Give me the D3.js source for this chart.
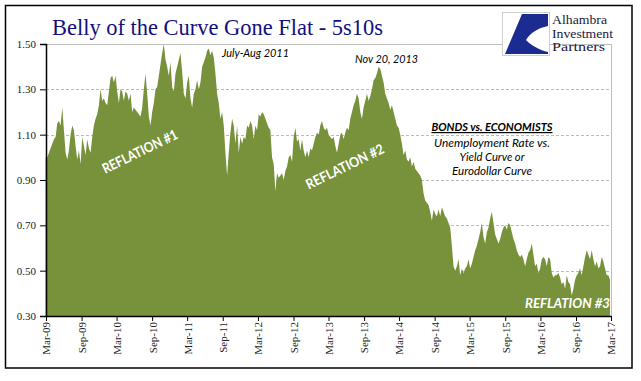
<!DOCTYPE html>
<html><head><meta charset="utf-8">
<script src="https://cdn.jsdelivr.net/npm/d3@7"></script>
<style>
html,body{margin:0;padding:0;background:#fff;}
svg{display:block;}
</style></head>
<body>
<svg id="chart" width="641" height="381"></svg>
<script>
// ---- data ----
const startDate = "2009-02-27";
const endDate = "2017-02-24";
const spreadValues = [
1.00,1.00,1.02,1.04,1.06,1.08,1.09,1.15,1.16,1.14,1.22,1.12,1.02,0.99,1.03,1.10,1.14,1.12,1.05,0.99,
1.03,0.97,1.09,1.05,1.01,1.08,1.04,1.02,1.09,1.14,1.17,1.19,1.23,1.30,1.25,1.26,1.24,1.23,1.29,1.35,
1.36,1.33,1.36,1.29,1.24,1.30,1.29,1.25,1.29,1.28,1.25,1.28,1.20,1.22,1.21,1.20,1.19,1.18,1.22,1.30,
1.37,1.28,1.18,1.14,1.20,1.24,1.30,1.31,1.36,1.41,1.46,1.50,1.43,1.40,1.36,1.42,1.31,1.29,1.37,1.40,
1.43,1.46,1.38,1.28,1.26,1.33,1.36,1.26,1.22,1.28,1.30,1.34,1.30,1.33,1.40,1.42,1.44,1.47,1.48,1.45,
1.47,1.44,1.37,1.28,1.24,1.17,1.20,1.14,1.02,0.92,1.02,1.11,1.17,1.14,1.06,1.14,1.02,1.09,1.06,1.09,
1.08,1.14,1.13,1.16,1.14,1.08,1.14,1.12,1.19,1.18,1.20,1.19,1.17,1.15,1.13,1.12,1.00,0.97,0.85,0.93,
0.91,0.92,0.93,0.90,0.94,0.96,1.00,1.01,0.98,1.09,1.13,1.07,1.08,1.03,1.08,1.03,1.00,1.03,1.00,1.04,
1.03,1.06,1.09,1.11,1.10,1.14,1.16,1.13,1.12,1.13,1.10,1.09,1.08,1.09,1.05,1.02,1.06,1.10,1.11,1.08,
1.11,1.13,1.12,1.17,1.20,1.23,1.25,1.28,1.26,1.20,1.17,1.22,1.25,1.28,1.25,1.27,1.30,1.34,1.35,1.37,
1.40,1.39,1.36,1.33,1.28,1.26,1.24,1.21,1.23,1.20,1.17,1.14,1.13,1.10,1.06,1.01,1.03,0.99,0.98,1.00,
0.96,0.98,0.95,0.94,0.93,0.92,0.90,0.84,0.81,0.80,0.79,0.76,0.72,0.77,0.75,0.74,0.77,0.74,
0.78,0.76,0.74,0.73,0.71,0.69,0.61,0.52,0.50,0.52,0.55,0.48,0.51,0.49,0.51,0.52,0.55,0.51,0.53,0.56,
0.59,0.61,0.64,0.67,0.71,0.65,0.62,0.67,0.69,0.73,0.76,0.71,0.66,0.64,0.62,0.64,0.67,0.69,0.70,0.68,
0.71,0.70,0.67,0.64,0.62,0.59,0.57,0.56,0.57,0.55,0.52,0.55,0.58,0.59,0.62,0.57,0.52,0.53,0.49,0.51,
0.55,0.56,0.55,0.52,0.56,0.55,0.49,0.47,0.48,0.48,0.49,0.47,0.44,0.45,0.42,0.48,0.45,0.44,0.39,0.42,
0.46,0.48,0.49,0.51,0.48,0.52,0.56,0.59,0.57,0.55,0.59,0.55,0.52,0.54,0.51,0.52,0.56,0.54,0.51,0.48,
0.48,0.46
];
const yTicks = [0.30, 0.50, 0.70, 0.90, 1.10, 1.30, 1.50];
const xTickLabels = ["Mar-09","Sep-09","Mar-10","Sep-10","Mar-11","Sep-11","Mar-12","Sep-12",
  "Mar-13","Sep-13","Mar-14","Sep-14","Mar-15","Sep-15","Mar-16","Sep-16","Mar-17"];
const titleText = "Belly of the Curve Gone Flat - 5s10s";
const logoLines = ["Alhambra","Investment","Partners"];
const logoWidths = [55, 61, 53];
const noteLines = ["Unemployment Rate vs.","Yield Curve or","Eurodollar Curve"];
const noteWidths = [116, 65, 80];

// ---- build ----
const parse = d3.timeParse("%Y-%m-%d");
const tickParse = d3.timeParse("%b-%y");
const t0 = parse(startDate), t1 = parse(endDate);
const n = spreadValues.length;
const data = spreadValues.map((v, i) => ({
  date: new Date(+t0 + (t1 - t0) * i / (n - 1)),
  value: v
}));

const svg = d3.select("#chart");
const L = 46, R = 611, T = 44, B = 316;

const x = d3.scaleTime().domain([tickParse("Mar-09"), tickParse("Mar-17")]).range([L, R]);
const y = d3.scaleLinear().domain([0.30, 1.50]).range([B, T]);

// outer border
svg.append("rect").attr("x", 5.5).attr("y", 5.5).attr("width", 626.5).attr("height", 362.5)
  .attr("fill", "none").attr("stroke", "#000").attr("stroke-width", 1.5);

// gridlines
svg.append("g").selectAll("line").data(yTicks.filter(d => d > 0.31 && d < 1.49)).join("line")
  .attr("x1", L).attr("x2", R).attr("y1", d => Math.round(y(d)) + 0.5).attr("y2", d => Math.round(y(d)) + 0.5)
  .attr("stroke", "#a8a8a8").attr("stroke-width", 0.8).attr("stroke-dasharray", "3,2");
// top & right frame
svg.append("line").attr("x1", L).attr("x2", R).attr("y1", T + 0.5).attr("y2", T + 0.5)
  .attr("stroke", "#bdbdbd").attr("stroke-width", 1);
svg.append("line").attr("x1", R + 0.5).attr("x2", R + 0.5).attr("y1", T).attr("y2", B)
  .attr("stroke", "#bdbdbd").attr("stroke-width", 1);

// area
const area = d3.area().x(d => x(d.date)).y0(y(0.30)).y1(d => y(d.value)).curve(d3.curveLinear);
svg.append("path").datum(data).attr("d", area).attr("fill", "#77923b");

// axes
const yAxis = d3.axisLeft(y).tickValues(yTicks).tickFormat(d3.format(".2f")).tickSize(6).tickPadding(4);
const gy = svg.append("g").attr("transform", `translate(${L},0)`).call(yAxis);
gy.select(".domain").attr("stroke", "#000").attr("stroke-width", 1.5);
gy.selectAll(".tick line").attr("stroke", "#000");
gy.selectAll("text").attr("font-family", "'Liberation Serif', serif").attr("font-size", 11).attr("fill", "#222");

const xAxis = d3.axisBottom(x).tickValues(xTickLabels.map(tickParse)).tickFormat(d3.timeFormat("%b-%y")).tickSize(5).tickSizeOuter(0);
const gx = svg.append("g").attr("transform", `translate(0,${B})`).call(xAxis);
gx.select(".domain").attr("stroke", "#000").attr("stroke-width", 1.5);
gx.selectAll(".tick line").attr("stroke", "#000");
gx.selectAll("text").attr("font-family", "'Liberation Serif', serif").attr("font-size", 11).attr("fill", "#222")
  .attr("text-anchor", "end").attr("transform", "rotate(-90)").attr("x", -6).attr("y", 0).attr("dy", "0.35em");

// title
svg.append("text").attr("x", 52).attr("y", 35).text(titleText)
  .attr("font-family", "'Liberation Serif', serif").attr("font-size", 23).attr("fill", "#10107e")
  .attr("textLength", 331).attr("lengthAdjust", "spacingAndGlyphs");

// logo
const lg = svg.append("g");
lg.append("rect").attr("x", 502.5).attr("y", 12.5).attr("width", 47).attr("height", 43)
  .attr("fill", "#fff").attr("stroke", "#cfcfcf");
lg.append("path").attr("fill", "#1b2b8f")
  .attr("d", "M522,14 L548,14 L548,26 C538,28 530,33 526,40 C532,46 540,50 548,52 L548,54 L505,54 Z");
lg.selectAll("text.logo").data(logoLines).join("text").attr("class", "logo")
  .attr("x", 552).attr("y", (d, i) => 24 + i * 13.5).text(d => d)
  .attr("font-family", "'Liberation Serif', serif").attr("font-size", 12.2).attr("fill", "#1a1a3a")
  .attr("textLength", (d, i) => logoWidths[i]).attr("lengthAdjust", "spacingAndGlyphs");

// annotations
const sans = "Lato, 'Open Sans', sans-serif";
svg.append("text").attr("x", 222).attr("y", 57).text("July-Aug 2011")
  .attr("font-family", sans).attr("font-style", "italic").attr("font-size", 12).attr("fill", "#000")
  .attr("textLength", 67).attr("lengthAdjust", "spacingAndGlyphs");
svg.append("text").attr("x", 355).attr("y", 63).text("Nov 20, 2013")
  .attr("font-family", sans).attr("font-style", "italic").attr("font-size", 12).attr("fill", "#000")
  .attr("textLength", 63).attr("lengthAdjust", "spacingAndGlyphs");
svg.append("text").attr("x", 492).attr("y", 131).attr("text-anchor", "middle").text("BONDS vs. ECONOMISTS")
  .attr("font-family", sans).attr("font-style", "italic").attr("font-weight", "bold").attr("font-size", 12)
  .attr("text-decoration", "underline").attr("fill", "#000")
  .attr("textLength", 121).attr("lengthAdjust", "spacingAndGlyphs");
svg.selectAll("text.note").data(noteLines).join("text").attr("class", "note")
  .attr("x", 492).attr("y", (d, i) => 147 + i * 14).attr("text-anchor", "middle").text(d => d)
  .attr("font-family", sans).attr("font-style", "italic").attr("font-size", 12).attr("fill", "#000")
  .attr("textLength", (d, i) => noteWidths[i]).attr("lengthAdjust", "spacingAndGlyphs");

function reflation(txt, cx, cy, ang, len, italic) {
  svg.append("text").attr("transform", `translate(${cx},${cy}) rotate(${ang})`)
    .attr("text-anchor", "middle").text(txt)
    .attr("font-family", sans).attr("font-weight", "bold").attr("font-style", italic ? "italic" : "normal")
    .attr("font-size", 14).attr("fill", "#fff")
    .attr("textLength", len).attr("lengthAdjust", "spacingAndGlyphs");
}
reflation("REFLATION #1", 142, 156, -26, 82, false);
reflation("REFLATION #2", 347, 171, -26, 85, false);
reflation("REFLATION #3", 567.5, 308, 0, 85, true);
</script>
</body></html>
